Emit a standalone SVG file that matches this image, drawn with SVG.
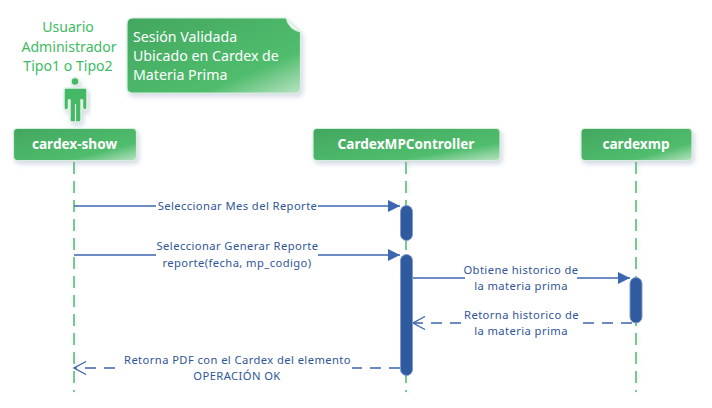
<svg xmlns="http://www.w3.org/2000/svg" width="712" height="408" viewBox="0 0 712 408">
<style>
text{font-family:"Noto Sans","Liberation Sans",sans-serif}
.a{font-size:14.100px;fill:#3dbb64;text-anchor:middle}
.n{font-size:14.200px;fill:#fff;text-anchor:start}
.h{font-size:13.600px;font-weight:700;fill:#fff;text-anchor:middle}
.m{font-size:11.200px;fill:#2f5597;text-anchor:middle;letter-spacing:.42px}
.life{stroke:#3fb45f;stroke-width:1.4;stroke-dasharray:12 7;fill:none}
.s{stroke:#3d66b0;stroke-width:1.6;fill:none}
.d{stroke:#3d66b0;stroke-width:1.6;fill:none;stroke-dasharray:11 8}
.box{fill:url(#g);stroke:#d8eedd;stroke-width:1.2;filter:url(#sh)}
.act{fill:#2f5a9e;stroke:#7f9ccc;stroke-width:1}
.bg{fill:#fff}
</style>
<defs>
<linearGradient id="g" x1="0" y1="0" x2="1" y2="1"><stop offset="0" stop-color="#42a75f"/><stop offset=".72" stop-color="#50bd6d"/><stop offset="1" stop-color="#b9e2c3"/></linearGradient>
<filter id="sh" x="-15%" y="-15%" width="130%" height="140%"><feDropShadow dx="2" dy="3" stdDeviation="2.500" flood-color="#8090b0" flood-opacity=".35"/></filter>
<filter id="ls" x="-300%" y="-5%" width="700%" height="110%"><feDropShadow dx="2" dy="1" stdDeviation="1.500" flood-color="#8090b0" flood-opacity=".2"/></filter>
<marker id="f" markerUnits="userSpaceOnUse" markerWidth="14" markerHeight="14" refX="12" refY="6.500" orient="auto"><path d="M0 0.500L12 6.500L0 12.500Z" fill="#3d66b0"/></marker>
<marker id="o" markerUnits="userSpaceOnUse" markerWidth="16" markerHeight="16" refX="13" refY="7.500" orient="auto"><path d="M1 1L13 7.500L1 14" fill="none" stroke="#3d66b0" stroke-width="1.400"/></marker>
</defs>
<rect width="712" height="408" fill="#fff"/>
<g id="connectors">
<g filter="url(#ls)">
<path class="life" d="M74 162V392"/>
<path class="life" d="M406 162V392"/>
<path class="life" d="M636 162V392"/>
</g>
<path class="s" d="M74 206H400" marker-end="url(#f)"/>
<path class="s" d="M74 255H400" marker-end="url(#f)"/>
<path class="s" d="M412 278H630" marker-end="url(#f)"/>
<path class="d" d="M632 323H413" marker-end="url(#o)"/>
<path class="d" d="M400 368H74" marker-end="url(#o)"/>
</g>
<g id="act1"><rect class="act" x="400.500" y="205.500" width="12" height="35" rx="6"/></g>
<g id="act2"><rect class="act" x="400.500" y="254.500" width="12" height="121" rx="6"/></g>
<g id="act3"><rect class="act" x="630" y="277.500" width="12" height="45.500" rx="6"/></g>
<g id="labels">
<rect class="bg" x="156" y="199" width="162" height="14"/>
<text class="m" x="237.500" y="210">Seleccionar Mes del Reporte</text>
<rect class="bg" x="156" y="240" width="162" height="30"/>
<text class="m" x="237.500" y="250">Seleccionar Generar Reporte</text>
<text class="m" x="237" y="267">reporte(fecha, mp_codigo)</text>
<rect class="bg" x="465" y="264" width="112" height="30"/>
<text class="m" x="521" y="274">Obtiene historico de</text>
<text class="m" x="521" y="290">la materia prima</text>
<rect class="bg" x="465" y="309" width="113" height="30"/>
<text class="m" x="521.500" y="319">Retorna historico de</text>
<text class="m" x="521" y="335">la materia prima</text>
<rect class="bg" x="123" y="354" width="229" height="30"/>
<text class="m" x="237.500" y="364">Retorna PDF con el Cardex del elemento</text>
<text class="m" x="237" y="380">OPERACIÓN OK</text>
</g>
<g id="actor">
<text class="a" x="68" y="32">Usuario</text>
<text class="a" x="69" y="52">Administrador</text>
<text class="a" x="68" y="71">Tipo1 o Tipo2</text>
<g filter="url(#sh)" fill="#45b865" stroke="#e0f2e4" stroke-width="1.500">
<circle cx="75" cy="81.500" r="4"/>
<path d="M66 88H85Q87 88 87 90V107Q87 110 85 110Q82.500 110 82.500 107V100H81V120Q81 122 79 122H72Q70 122 70 120V100H68.500V107Q68.500 110 66 110Q64 110 64 107V90Q64 88 66 88Z"/>
</g>
<path d="M75.500 104V122" stroke="#e6f5e9" stroke-width="1.200" fill="none"/>
</g>
<g id="note">
<path class="box" d="M133 18H286L300.500 32V88Q300.500 93 295.500 93H132Q127 93 127 88V24Q127 18 133 18Z"/>
<path d="M286 18Q289 30 300.500 32Z" fill="#eef8f0" stroke="#d8eedd"/>
<text class="n" x="133" y="42">Sesión Validada</text>
<text class="n" x="133" y="61">Ubicado en Cardex de</text>
<text class="n" x="133" y="80">Materia Prima</text>
</g>
<g id="cardex-show"><rect class="box" x="13.500" y="128.500" width="123" height="32" rx="4"/><text class="h" x="74.500" y="149">cardex-show</text></g>
<g id="CardexMPController"><rect class="box" x="313" y="128.500" width="187" height="32" rx="4"/><text class="h" x="406" y="149">CardexMPController</text></g>
<g id="cardexmp"><rect class="box" x="581" y="128.500" width="111" height="32" rx="4"/><text class="h" x="636" y="149">cardexmp</text></g>
</svg>
